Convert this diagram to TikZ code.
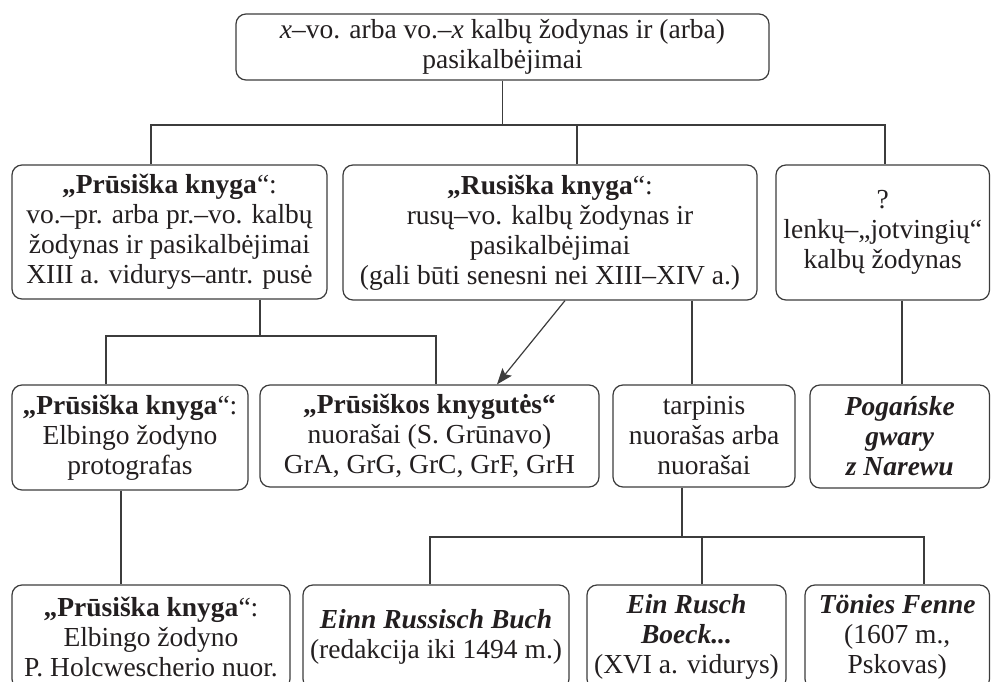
\documentclass[tikz,border=0pt]{standalone}
\usepackage{fontspec}
\setmainfont{Liberation Serif}
\usetikzlibrary{arrows.meta}
\definecolor{ink}{HTML}{231F20}
\definecolor{edge}{HTML}{3C3C3C}
\begin{document}
\begin{tikzpicture}[x=1pt,y=-1pt,
  box/.style={draw=edge, line width=1.2pt, rounded corners=10pt, inner sep=0pt,
    align=center, text=ink, font=\fontsize{27.5}{30}\selectfont},
  conn/.style={draw=edge, line width=1.2pt}]
\useasboundingbox (0,0) rectangle (991,682);
\clip (0,0) rectangle (991,682);
\node[box, minimum width=533pt, minimum height=66pt] (top) at (502.5,47)
  {\textit{x}–vo. arba vo.–\textit{x} kalbų žodynas ir (arba)\\pasikalbėjimai};
\node[box, minimum width=315pt, minimum height=134pt] (A) at (169.5,232)
  {\textbf{„Prūsiška knyga}“:\\vo.–pr. arba pr.–vo. kalbų\\žodynas ir pasikalbėjimai\\XIII a. vidurys–antr. pusė};
\node[box, minimum width=414pt, minimum height=135pt] (B) at (550,232.5)
  {\textbf{„Rusiška knyga}“:\\rusų–vo. kalbų žodynas ir\\pasikalbėjimai\\(gali būti senesni nei XIII–XIV a.)};
\node[box, minimum width=213.5pt, minimum height=135pt] (C) at (882.75,232.5)
  {?\\lenkų–„jotvingių“\\kalbų žodynas};
\node[box, minimum width=236pt, minimum height=105pt] (D) at (130,437.5)
  {\textbf{„Prūsiška knyga}“:\\Elbingo žodyno\\protografas};
\node[box, minimum width=339pt, minimum height=102pt] (E) at (429.5,436)
  {\textbf{„Prūsiškos knygutės“}\\nuorašai (S. Grūnavo)\\GrA, GrG, GrC, GrF, GrH};
\node[box, minimum width=182pt, minimum height=102pt] (F) at (704,436)
  {tarpinis\\nuorašas arba\\nuorašai};
\node[box, minimum width=179.5pt, minimum height=103pt] (G) at (899.75,436.5)
  {\textbf{\textit{Pogańske}}\\\textbf{\textit{gwary}}\\\textbf{\textit{z Narewu}}};
\node[box, minimum width=278pt, minimum height=104pt] (H) at (151,637)
  {\textbf{„Prūsiška knyga}“:\\Elbingo žodyno\\P. Holcwescherio nuor.};
\node[box, minimum width=266pt, minimum height=104pt] (I) at (436,637)
  {\textbf{\textit{Einn Russisch Buch}}\\(redakcija iki 1494 m.)};
\node[box, minimum width=199pt, minimum height=104pt] (J) at (686.5,637)
  {\textbf{\textit{Ein Rusch}}\\\textbf{\textit{Boeck...}}\\(XVI a. vidurys)};
\node[box, minimum width=184.5pt, minimum height=104pt] (K) at (897.25,637)
  {\textbf{\textit{Tönies Fenne}}\\(1607 m.,\\Pskovas)};
% connectors
\coordinate (j1) at (502.5,125);
\coordinate (j2) at (260,336);
\coordinate (j3) at (682,537);
\draw[conn] (top.south) -- (j1);
\draw[conn] (A.north -| 151,0) |- (j1) -| (C.north -| 885,0);
\draw[conn] (B.north -| 577,0) -- (577,125);
\draw[conn] (A.south -| 260,0) -- (j2);
\draw[conn] (D.north -| 106,0) |- (j2) -| (E.north -| 436,0);
\draw[conn, -{Stealth[length=16pt,width=12pt,inset=3pt]}] (B.south -| 565,0) -- (E.north -| 497,0);
\draw[conn] (B.south -| 692,0) -- (F.north -| 692,0);
\draw[conn] (C.south -| 902,0) -- (G.north -| 902,0);
\draw[conn] (D.south -| 121,0) -- (H.north -| 121,0);
\draw[conn] (F.south -| 682,0) -- (j3);
\draw[conn] (I.north -| 430,0) |- (j3) -| (K.north -| 924,0);
\draw[conn] (J.north -| 702,0) -- (702,537);
\end{tikzpicture}
\end{document}
